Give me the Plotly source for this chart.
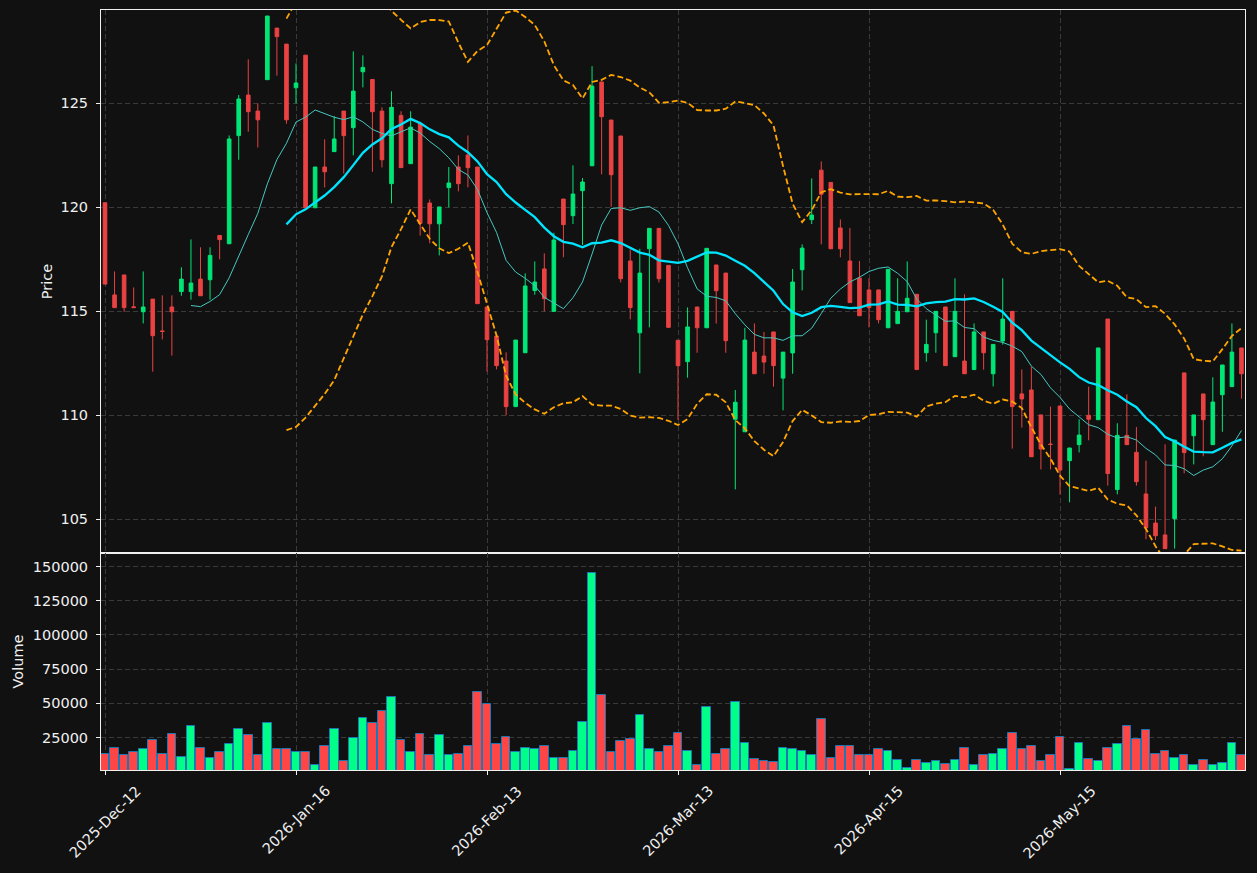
import plotly.graph_objects as go
from plotly.subplots import make_subplots
import pandas as pd

# ---------------- data ----------------
opens = [120.22, 115.79, 116.75, 115.22, 114.98, 115.59, 114.06, 115.21, 115.95, 115.95,
         116.55, 116.52, 118.65, 118.25, 123.45, 125.40, 124.63, 126.14, 128.62, 127.85,
         125.75, 127.32, 119.98, 121.94, 122.68, 124.63, 123.83, 126.52, 126.15, 124.63,
         121.14, 124.42, 122.10, 124.04, 120.21, 119.21, 120.95, 121.94, 122.52, 121.94,
         115.21, 113.81, 112.61, 110.42, 113.01, 116.00, 117.04, 115.00, 120.40, 119.60,
         120.80, 122.00, 126.03, 124.20, 123.43, 117.42, 113.97, 118.01, 118.99, 117.21,
         113.61, 112.58, 115.21, 114.21, 117.23, 116.84, 109.81, 109.21, 113.04, 112.85,
         114.01, 111.79, 113.00, 117.00, 119.41, 121.79, 121.20, 119.01, 117.42, 116.60,
         116.03, 116.03, 114.21, 114.41, 114.98, 115.82, 113.01, 113.97, 115.21, 112.82,
         112.61, 112.20, 114.01, 112.00, 113.57, 115.00, 111.03, 111.22, 110.02, 108.62,
         110.45, 107.82, 108.59, 110.00, 109.79, 114.63, 106.43, 109.04, 108.22, 106.22,
         104.82, 104.25, 105.03, 112.04, 109.02, 111.03, 108.59, 110.99, 111.38, 113.24]
highs = [120.22, 116.92, 116.75, 116.15, 116.92, 115.59, 115.77, 115.77, 117.12, 118.46,
         118.08, 118.08, 118.65, 123.46, 125.40, 127.12, 125.00, 129.20, 128.62, 127.85,
         126.92, 127.32, 121.94, 123.27, 124.39, 124.63, 127.50, 127.31, 126.15, 124.81,
         125.58, 124.62, 124.62, 124.04, 120.38, 120.02, 121.94, 122.50, 123.46, 121.94,
         115.21, 113.81, 113.03, 113.62, 116.83, 117.40, 117.79, 118.78, 120.40, 122.02,
         121.41, 126.79, 126.03, 124.20, 123.43, 117.98, 118.01, 118.99, 118.99, 117.21,
         113.61, 115.19, 115.21, 118.03, 117.23, 116.84, 111.22, 114.21, 114.42, 114.01,
         114.01, 113.04, 117.04, 118.22, 121.39, 122.21, 121.20, 119.42, 119.01, 117.42,
         116.59, 116.03, 117.02, 116.59, 117.40, 115.82, 114.60, 115.00, 115.21, 116.59,
         115.82, 114.42, 114.01, 113.41, 116.59, 115.00, 112.21, 112.34, 110.02, 110.42,
         110.45, 108.43, 109.81, 111.38, 113.24, 114.63, 109.62, 111.01, 109.44, 107.82,
         105.61, 108.61, 108.81, 112.04, 110.02, 111.03, 111.83, 112.42, 114.42, 113.24]
lows = [116.31, 115.18, 114.98, 115.17, 114.42, 112.10, 113.65, 112.87, 115.75, 115.56,
        115.75, 115.56, 117.50, 118.25, 122.29, 123.64, 122.88, 126.14, 126.33, 124.02,
        125.00, 119.98, 119.98, 120.96, 122.68, 121.63, 122.50, 125.77, 121.71, 121.92,
        120.19, 121.91, 122.10, 118.64, 118.27, 117.69, 120.00, 120.77, 120.96, 115.37,
        112.10, 112.21, 110.00, 110.42, 113.01, 115.80, 115.00, 115.00, 117.60, 119.20,
        118.19, 122.00, 121.59, 120.03, 116.39, 114.62, 112.02, 114.23, 116.39, 114.23,
        109.78, 111.81, 113.01, 114.21, 114.41, 113.01, 106.44, 109.21, 112.00, 112.00,
        111.38, 110.24, 112.00, 116.01, 119.20, 118.22, 118.01, 117.60, 115.42, 114.79,
        114.23, 114.42, 114.21, 114.41, 114.98, 112.20, 112.58, 113.01, 112.39, 112.82,
        112.00, 112.20, 112.20, 111.39, 113.40, 108.40, 109.41, 108.01, 107.40, 107.40,
        106.20, 105.82, 108.22, 108.80, 109.79, 106.62, 106.20, 108.59, 106.62, 104.04,
        104.00, 103.59, 103.59, 107.21, 107.64, 108.03, 108.59, 109.21, 111.38, 110.80]
closes = [116.31, 115.18, 115.18, 115.18, 115.21, 113.83, 114.03, 114.98, 116.55, 116.36,
          115.75, 117.69, 118.45, 123.29, 125.21, 124.60, 124.21, 129.20, 128.21, 124.21,
          125.98, 119.98, 121.94, 121.71, 123.29, 123.45, 125.59, 126.73, 124.60, 122.29,
          124.81, 121.91, 123.86, 119.23, 119.21, 120.02, 121.17, 121.14, 121.91, 115.37,
          113.64, 112.39, 110.42, 113.62, 116.22, 116.41, 115.61, 118.43, 119.17, 120.64,
          121.22, 125.83, 124.36, 121.57, 116.57, 115.18, 116.84, 118.99, 116.57, 114.23,
          112.39, 114.25, 114.21, 118.03, 115.99, 113.59, 110.63, 113.62, 112.00, 112.56,
          112.39, 113.04, 116.41, 118.04, 119.63, 120.63, 118.01, 118.01, 115.42, 114.79,
          115.18, 114.60, 117.02, 115.00, 115.63, 112.20, 113.41, 115.00, 112.39, 115.00,
          112.00, 114.01, 113.01, 113.41, 114.63, 110.42, 110.79, 108.01, 108.38, 108.60,
          107.37, 108.43, 109.05, 109.81, 113.24, 107.20, 109.04, 108.59, 106.81, 104.60,
          104.21, 103.59, 108.81, 108.21, 110.02, 109.79, 110.64, 112.42, 113.04, 112.00]
volumes = [13200, 17600, 12500, 14700, 16900, 22800, 13200, 27200, 11000, 33100,
           17600, 10300, 14700, 19900, 30900, 26500, 11800, 35300, 16200, 16900,
           14700, 14700, 5100, 19100, 30900, 8100, 24300, 39000, 35300, 44100,
           54400, 22800, 14000, 27200, 12500, 26500, 11800, 13200, 18400, 58100,
           49300, 19900, 25000, 14000, 17600, 16200, 19100, 10300, 10300, 15400,
           36000, 145600, 55900, 14700, 22100, 23500, 41200, 16200, 14700, 19100,
           27900, 15400, 5100, 47100, 13200, 16200, 50700, 20600, 9600, 8100,
           7400, 17600, 16900, 15400, 12500, 38200, 10300, 18400, 18400, 12500,
           11800, 16900, 15400, 8800, 2900, 8800, 6600, 8100, 5900, 8800,
           17600, 5100, 11800, 13200, 16900, 27900, 16200, 19100, 8100, 12500,
           25000, 2200, 21300, 9600, 8100, 17600, 19900, 33100, 23500, 30100,
           13200, 15400, 10300, 12500, 5100, 8800, 5100, 6600, 21300, 11800]
tick_positions = [0, 20, 40, 60, 80, 100]
tick_labels = ["2025-Dec-12", "2026-Jan-16", "2026-Feb-13",
               "2026-Mar-13", "2026-Apr-15", "2026-May-15"]
price_ticks = [105, 110, 115, 120, 125]
volume_ticks = [25000, 50000, 75000, 100000, 125000, 150000]

# ---------------- style ----------------
BG = "#111111"
UP = "#00e676"
DOWN = "#ea4242"
VUP = "#00ff88"
VDOWN = "#ff4646"
TXT = "#f0f0f0"
GRID = "#3a3a3a"
FONT = "DejaVu Sans"

idx = list(range(len(closes)))
s = pd.Series(closes)
ma10 = s.rolling(10).mean()
ma20 = s.rolling(20).mean()
sd20 = s.rolling(20).std(ddof=0)
bb_up = ma20 + 2 * sd20
bb_lo = ma20 - 2 * sd20

fig = make_subplots(rows=2, cols=1, shared_xaxes=True, vertical_spacing=0,
                    row_heights=[0.7145, 0.2855])

fig.add_trace(go.Candlestick(
    x=idx, open=opens, high=highs, low=lows, close=closes,
    increasing=dict(line=dict(color=UP, width=1), fillcolor=UP),
    decreasing=dict(line=dict(color=DOWN, width=1), fillcolor=DOWN),
    whiskerwidth=0, showlegend=False, hoverinfo="skip"), row=1, col=1)

fig.add_trace(go.Scatter(x=idx, y=ma10, mode="lines",
                         line=dict(color="#45c8c0", width=1),
                         showlegend=False, hoverinfo="skip"), row=1, col=1)
fig.add_trace(go.Scatter(x=idx, y=ma20, mode="lines",
                         line=dict(color="#00e5ff", width=2.3),
                         showlegend=False, hoverinfo="skip"), row=1, col=1)
for band in (bb_up, bb_lo):
    fig.add_trace(go.Scatter(x=idx, y=band, mode="lines",
                             line=dict(color="#ffa500", width=1.8, dash="6px,3px"),
                             showlegend=False, hoverinfo="skip"), row=1, col=1)

vcolors = [VUP if c >= o else VDOWN for o, c in zip(opens, closes)]
fig.add_trace(go.Bar(x=idx, y=volumes, width=0.9,
                     marker=dict(color=vcolors, line=dict(color="#1f77b4", width=1)),
                     showlegend=False, hoverinfo="skip"), row=2, col=1)

axis_common = dict(showline=True, mirror=True, linecolor="#f0f0f0", linewidth=1,
                   zeroline=False, showgrid=True, gridcolor=GRID, gridwidth=1,
                   griddash="5px,3px")

xr = [-0.42, 119.37]
fig.update_xaxes(range=xr, tickvals=tick_positions, rangeslider_visible=False,
                 showticklabels=False, **axis_common)
fig.update_xaxes(ticks="", row=1, col=1)
fig.update_xaxes(ticks="outside", ticklen=4, tickcolor="#f0f0f0", row=2, col=1)

fig.update_yaxes(range=[103.38, 129.49], tickvals=price_ticks,
                 ticks="outside", ticklen=4, tickcolor="#f0f0f0",
                 ticklabelstandoff=5,
                 tickfont=dict(family=FONT, size=14.5, color=TXT),
                 title=dict(text="Price", font=dict(family=FONT, size=14.5, color=TXT),
                            standoff=4),
                 row=1, col=1, **axis_common)
fig.update_yaxes(range=[1200, 159900], tickvals=volume_ticks, tickformat="d",
                 ticks="outside", ticklen=4, tickcolor="#f0f0f0",
                 ticklabelstandoff=5,
                 tickfont=dict(family=FONT, size=14.5, color=TXT),
                 title=dict(text="Volume", font=dict(family=FONT, size=14.5, color=TXT),
                            standoff=5),
                 row=2, col=1, **axis_common)

for pos, lab in zip(tick_positions, tick_labels):
    fig.add_annotation(x=pos, y=0, xref="x2", yref="paper", text=lab,
                       textangle=-45, xanchor="center", yanchor="top",
                       yshift=-10, showarrow=False,
                       font=dict(family=FONT, size=14.5, color=TXT))

fig.update_layout(
    width=1257, height=873,
    margin=dict(l=101, r=12, t=10, b=103),
    paper_bgcolor=BG, plot_bgcolor=BG,
    boxgap=0.46, bargap=0, showlegend=False,
    font=dict(family=FONT, size=14.5, color=TXT),
)

fig.write_html("out.html")
